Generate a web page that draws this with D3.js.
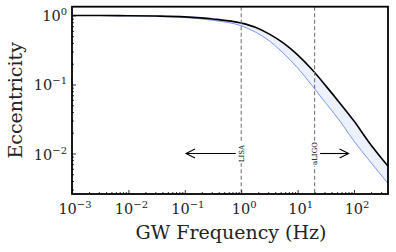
<!DOCTYPE html>
<html><head><meta charset="utf-8">
<script src="https://cdn.jsdelivr.net/npm/d3@7"></script>
<style>body{margin:0;background:#fff}svg{display:block}text{font-family:'DejaVu Serif',serif}</style>
</head><body><svg id="c" width="396" height="252"></svg>
<script>
// Data
const freqs = [0.001, 0.00316, 0.01, 0.0316, 0.1, 0.316, 1, 1.78, 3.16, 5.62, 10, 17.8, 31.6, 56.2, 100, 178, 398];
const eccUpper = [1.0, 1.0, 0.993, 0.982, 0.955, 0.891, 0.776, 0.676, 0.537, 0.398, 0.269, 0.166, 0.0955, 0.0537, 0.0295, 0.0151, 0.0066];
const eccLower = [1.0, 0.999, 0.989, 0.973, 0.933, 0.851, 0.708, 0.575, 0.427, 0.282, 0.174, 0.0977, 0.0537, 0.0295, 0.0151, 0.0083, 0.0037];
const xTickExps = [-3, -2, -1, 0, 1, 2];
const yTickExps = [0, -1, -2];
const detectorNames = ["LISA", "aLIGO"];
const detectorFreqs = [1, 20];
const arrowStarts = [0.8, 25];
const arrowEnds = [0.105, 80];
const arrowEcc = 0.01;
const xDomain = [0.001, 400];
const yDomain = [0.00259, 1.34];

const svg = d3.select("#c");
const m = {l:72, r:8, t:6.7, b:58};
const W = 396, H = 252;
const x = d3.scaleLog().domain(xDomain).range([m.l, W - m.r]);
const y = d3.scaleLog().domain(yDomain).range([H - m.b, m.t]);

const data = freqs.map((f,i)=>({f, u:eccUpper[i], l:eccLower[i]}));
const g = svg.append("g");
g.append("path").datum(data)
  .attr("d", d3.area().x(d=>x(d.f)).y0(d=>y(d.l)).y1(d=>y(d.u)).curve(d3.curveMonotoneX))
  .attr("fill", "#edf1fd");
g.append("path").datum(data)
  .attr("d", d3.line().x(d=>x(d.f)).y(d=>y(d.l)).curve(d3.curveMonotoneX))
  .attr("fill","none").attr("stroke","#7b98f2").attr("stroke-width",1);
g.append("path").datum(data)
  .attr("d", d3.line().x(d=>x(d.f)).y(d=>y(d.u)).curve(d3.curveMonotoneX))
  .attr("fill","none").attr("stroke","#000").attr("stroke-width",1.6);

// detector lines
detectorFreqs.forEach((f,i)=>{
  g.append("line").attr("x1",x(f)).attr("x2",x(f)).attr("y1",m.t).attr("y2",H-m.b)
    .attr("stroke","#777").attr("stroke-width",1.1).attr("stroke-dasharray","4,2.5");
});
// arrows
detectorFreqs.forEach((f,i)=>{
  const x0 = x(arrowStarts[i]), x1 = x(arrowEnds[i]), yy = y(arrowEcc);
  g.append("line").attr("x1",x0).attr("x2",x1).attr("y1",yy).attr("y2",yy)
    .attr("stroke","#000").attr("stroke-width",1.1);
  const dir = Math.sign(x1-x0);
  g.append("path").attr("d",`M${x1-dir*9},${yy-4.5}L${x1},${yy}L${x1-dir*9},${yy+4.5}`)
    .attr("fill","none").attr("stroke","#000").attr("stroke-width",1.1);
});
// detector labels
detectorFreqs.forEach((f,i)=>{
  const t = g.append("text").attr("transform",`translate(${x(f)+2.5},${y(arrowEcc)}) rotate(-90)`)
    .attr("text-anchor","middle").attr("font-size",7).text(detectorNames[i]);
  const bb = t.node().getBBox();
  g.insert("rect", () => t.node())
    .attr("transform",`translate(${x(f)+2.5},${y(arrowEcc)}) rotate(-90)`)
    .attr("x",bb.x-1).attr("y",bb.y).attr("width",bb.width+2).attr("height",bb.height).attr("fill","#fff");
});

// axes with inward ticks
const xAxisMinor = d3.axisBottom(x).tickValues(d3.range(-3,3).flatMap(e=>d3.range(2,10).map(k=>k*Math.pow(10,e))).filter(v=>v<=xDomain[1]))
  .tickSize(-2).tickFormat("");
const xAxisMajor = d3.axisBottom(x).tickValues(xTickExps.map(e=>Math.pow(10,e))).tickSize(-4).tickFormat("");
const yAxisMinor = d3.axisLeft(y).tickValues(d3.range(-3,1).flatMap(e=>d3.range(2,10).map(k=>k*Math.pow(10,e))).filter(v=>v>=yDomain[0]&&v<=yDomain[1]))
  .tickSize(-2).tickFormat("");
const yAxisMajor = d3.axisLeft(y).tickValues(yTickExps.map(e=>Math.pow(10,e))).tickSize(-4).tickFormat("");
[xAxisMinor,xAxisMajor].forEach(a=>{
  const ag = svg.append("g").attr("transform",`translate(0,${H-m.b})`).call(a);
  ag.select(".domain").remove();
  ag.selectAll("line").attr("stroke","#000").attr("stroke-width",0.8);
});
[yAxisMinor,yAxisMajor].forEach(a=>{
  const ag = svg.append("g").attr("transform",`translate(${m.l},0)`).call(a);
  ag.select(".domain").remove();
  ag.selectAll("line").attr("stroke","#000").attr("stroke-width",0.8);
});
// frame
svg.append("rect").attr("x",m.l).attr("y",m.t).attr("width",W-m.l-m.r).attr("height",H-m.t-m.b)
  .attr("fill","none").attr("stroke","#000").attr("stroke-width",1.8);

// tick labels
function pow10Label(sel, e){
  sel.append("tspan").text("10");
  sel.append("tspan").attr("dy",-6).attr("font-size",10).text(e<0?"\u2212"+(-e):String(e));
}
xTickExps.forEach(e=>{
  const t = svg.append("text").attr("x",x(Math.pow(10,e))+3).attr("y",H-m.b+20)
    .attr("text-anchor","middle").attr("font-size",14.5).attr("fill","#222");
  pow10Label(t,e);
});
yTickExps.forEach(e=>{
  const t = svg.append("text").attr("x",m.l-5).attr("y",y(Math.pow(10,e))+6)
    .attr("text-anchor","end").attr("font-size",14.5).attr("fill","#222");
  pow10Label(t,e);
});
// axis titles
svg.append("text").attr("x",(m.l+W-m.r)/2+1).attr("y",239).attr("text-anchor","middle")
  .attr("font-size",19).attr("fill","#222").text("GW Frequency (Hz)");
svg.append("text").attr("transform",`translate(22,${(m.t+H-m.b)/2}) rotate(-90)`).attr("text-anchor","middle")
  .attr("font-size",19).attr("fill","#222").text("Eccentricity");
</script></body></html>
